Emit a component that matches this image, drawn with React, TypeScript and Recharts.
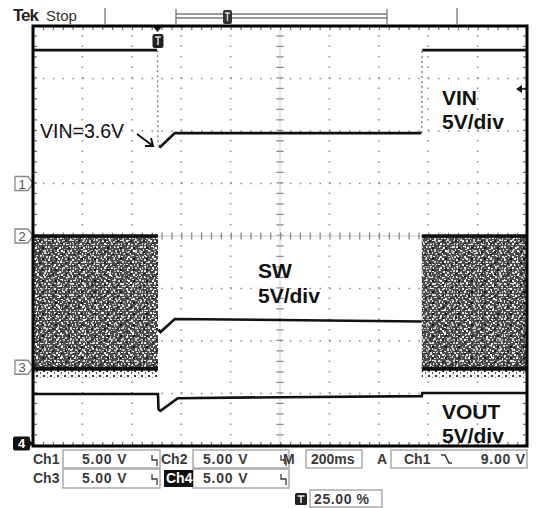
import React from "react";
import { LineChart, Line, XAxis, YAxis, ReferenceArea } from "recharts";

// time in screen divisions (200ms/div), amplitude in screen divisions (5V/div)
const vinT = [0, 2.51, 2.52, 2.55, 2.58, 2.87, 7.86, 7.87, 7.88, 10];
const vinV = [3.54, 3.54, null, 1.72, 1.7, 1.96, 1.96, null, 3.54, 3.54];
const vinEdgeT = [2.52, 2.53, 2.535, 7.87, 7.875];
const vinEdgeV = [3.54, 1.72, null, 1.96, 3.54];

const swT = [2.54, 2.58, 2.87, 5, 7.87];
const swV = [-1.78, -1.83, -1.58, -1.6, -1.63];
const railT = [0, 2.53, 2.535, 7.87, 10];
const railTopV = [0, 0, null, 0, 0];
const railBotV = [-2.53, -2.53, null, -2.53, -2.53];
const swBands = [[0, 2.53], [7.87, 10]];

const voutT = [0, 2.53, 2.54, 2.58, 2.93, 5, 7.87, 7.88, 10];
const voutV = [-3.01, -3.01, -3.3, -3.33, -3.09, -3.07, -3.05, -2.99, -2.99];

const chLevels = [1, 0, -2.5, -3.95];
const chNames = ["1", "2", "3", "4"];
const trigPos = 2.52;
const trigLevel = 2.8;

const xDivs = [1, 2, 3, 4, 6, 7, 8, 9];
const yDivs = [-3, -2, -1, 1, 2, 3];

const pts = (t: number[], v: (number | null)[]) => t.map((x, i) => ({ t: x, v: v[i] }));
const vLine = (x: number) => [{ t: x, v: -4 }, { t: x, v: 4 }];
const hLine = (y: number) => [{ t: 0, v: y }, { t: 10, v: y }];

const ink = "#3a3a3a";
const tekFont = "'Liberation Sans', Arial, sans-serif";

function ChMarker(props: any) {
  const { x, y, payload } = props;
  const i = chLevels.indexOf(payload.value);
  if (i === 3) {
    return (
      <g>
        <rect x={x - 20} y={y - 7} width={17} height={14} rx={2} fill="#111" />
        <polygon points={`${x - 4},${y - 4} ${x},${y} ${x - 4},${y + 4}`} fill="#111" />
        <text x={x - 11.5} y={y + 5} textAnchor="middle" fontSize={13} fontWeight="bold" fill="#fff" fontFamily={tekFont}>{chNames[i]}</text>
      </g>
    );
  }
  return (
    <g>
      <polygon points={`${x - 18},${y - 7} ${x - 5},${y - 7} ${x},${y} ${x - 5},${y + 7} ${x - 18},${y + 7}`} fill="#fff" stroke="#888" strokeWidth={1.3} />
      <text x={x - 11} y={y + 5} textAnchor="middle" fontSize={13} fill="#555" fontFamily={tekFont}>{chNames[i]}</text>
    </g>
  );
}

function TrigMarker(props: any) {
  const { x, y } = props;
  return (
    <g>
      <polygon points={`${x - 5},${y} ${x + 5},${y} ${x},${y + 6}`} fill="#111" />
      <rect x={x - 5} y={y + 8} width={11} height={14} rx={2} fill="#222" />
      <path d={`M${x - 2.5},${y + 11} H${x + 3.5} M${x + 0.5},${y + 11} V${y + 19}`} stroke="#ddd" strokeWidth={1.5} />
    </g>
  );
}

function LevelMarker(props: any) {
  const { x, y } = props;
  return (
    <g>
      <polygon points={`${x - 11},${y} ${x - 5},${y - 4} ${x - 5},${y + 4}`} fill="#111" />
      <line x1={x - 5} y1={y} x2={x - 1} y2={y} stroke="#111" strokeWidth={1.5} />
    </g>
  );
}

// speckle texture for the switching-noise bands
const speckColors = ["#e6e6e6", "#bcbcbc", "#f5f5f5", "#a0a0a0", "#d4d4d4", "#c8c8c8", "#eeeeee"];
const specks = [
  [0, 0, 2, 1], [3, 1, 1, 2], [6, 0, 2, 2], [10, 1, 2, 1], [14, 0, 1, 2], [17, 1, 2, 2], [21, 0, 2, 1],
  [1, 3, 1, 2], [4, 4, 2, 1], [8, 3, 2, 2], [12, 4, 1, 1], [15, 3, 2, 2], [19, 4, 2, 1], [22, 3, 1, 2],
  [0, 6, 2, 2], [5, 7, 1, 1], [7, 6, 2, 1], [11, 7, 2, 2], [14, 6, 1, 2], [18, 7, 2, 1], [21, 6, 2, 2],
  [2, 9, 2, 1], [6, 10, 1, 2], [9, 9, 2, 1], [13, 10, 2, 2], [16, 9, 1, 1], [19, 10, 2, 2], [23, 9, 1, 2],
  [0, 12, 1, 2], [3, 13, 2, 2], [7, 12, 2, 1], [10, 13, 1, 2], [15, 12, 2, 1], [18, 13, 1, 2], [20, 12, 2, 2],
  [1, 16, 2, 1], [5, 15, 1, 2], [8, 16, 2, 2], [12, 15, 2, 1], [16, 16, 2, 1], [19, 15, 1, 2], [22, 16, 2, 2],
  [0, 19, 2, 2], [4, 18, 1, 1], [6, 19, 2, 1], [10, 18, 2, 2], [13, 19, 1, 2], [17, 18, 2, 2], [21, 19, 1, 1],
  [2, 22, 2, 1], [5, 21, 1, 2], [9, 22, 2, 1], [12, 21, 2, 2], [15, 22, 1, 1], [18, 21, 2, 1], [22, 22, 1, 2],
];
const extraSpecks = [
  [1, 2, 2, 1, "#f0f0f0"], [5, 8, 2, 2, "#d0d0d0"], [10, 4, 1, 2, "#e8e8e8"], [11, 9, 2, 1, "#ccc"],
  [7, 0, 1, 1, "#fafafa"], [3, 5, 2, 2, "#151515"], [9, 1, 2, 1, "#1a1a1a"], [0, 9, 2, 2, "#222"],
];

export default function App() {
  const lineProps = { dot: false, isAnimationActive: false, activeDot: false, legendType: "none" as const };
  return (
    <div style={{ position: "absolute", left: 0, top: 0, width: 539, height: 508, background: "#fff" }}>
      <LineChart width={539} height={508} margin={{ top: 0, right: 0, bottom: 62, left: 0 }}>
        <defs>
          <pattern id="nz1" width={24} height={24} patternUnits="userSpaceOnUse">
            <rect width={24} height={24} fill="#4a4a4a" />
            {specks.map((s, i) => (
              <rect key={i} x={s[0]} y={s[1]} width={s[2]} height={s[3]} fill={speckColors[(i * 3) % speckColors.length]} />
            ))}
          </pattern>
          <pattern id="nz2" width={13} height={11} patternUnits="userSpaceOnUse">
            {extraSpecks.map((s, i) => (
              <rect key={i} x={s[0] as number} y={s[1] as number} width={s[2] as number} height={s[3] as number} fill={s[4] as string} />
            ))}
          </pattern>
          <pattern id="nz3" width={7} height={5} patternUnits="userSpaceOnUse">
            <rect x={1} y={0} width={2} height={2} fill="#333" />
            <rect x={5} y={2} width={1} height={2} fill="#555" />
          </pattern>
        </defs>
        <XAxis orientation="top" type="number" dataKey="t" domain={[0, 10]} ticks={[trigPos]} height={26}
          allowDataOverflow axisLine={false} tickLine={false} tickSize={0} tickMargin={0} tick={<TrigMarker />} />
        <YAxis type="number" domain={[-4, 4]} ticks={chLevels} width={33} axisLine={false} tickLine={false}
          allowDataOverflow tickSize={0} tickMargin={0} tick={<ChMarker />} interval={0} />
        <YAxis yAxisId="trig" orientation="right" type="number" domain={[-4, 4]} ticks={[trigLevel]} width={12}
          allowDataOverflow axisLine={false} tickLine={false} tickSize={0} tickMargin={0} tick={<LevelMarker />} />

        {/* graticule */}
        {xDivs.map((d) => (
          <Line key={"gx" + d} data={vLine(d)} dataKey="v" stroke="#8a8a8a" strokeWidth={1.5} strokeDasharray="1.5 9" {...lineProps} />
        ))}
        {yDivs.map((d) => (
          <Line key={"gy" + d} data={hLine(d)} dataKey="v" stroke="#8a8a8a" strokeWidth={1.5} strokeDasharray="1.5 8.38" {...lineProps} />
        ))}
        <Line data={vLine(5)} dataKey="v" stroke="#cfcfcf" strokeWidth={1} {...lineProps} />
        <Line data={vLine(5)} dataKey="v" stroke="#8a8a8a" strokeWidth={7} strokeDasharray="1.3 9.2" {...lineProps} />
        <Line data={hLine(0)} dataKey="v" stroke="#cfcfcf" strokeWidth={1} {...lineProps} />
        <Line data={hLine(0)} dataKey="v" stroke="#8a8a8a" strokeWidth={7} strokeDasharray="1.3 8.58" {...lineProps} />
        <Line data={hLine(4 - 2 / 52.5)} dataKey="v" stroke="#777" strokeWidth={4} strokeDasharray="1.3 8.58" {...lineProps} />
        <Line data={hLine(-4 + 2 / 52.5)} dataKey="v" stroke="#777" strokeWidth={4} strokeDasharray="1.3 8.58" {...lineProps} />
        <Line data={vLine(2 / 49.4)} dataKey="v" stroke="#777" strokeWidth={4} strokeDasharray="1.3 9.2" {...lineProps} />
        <Line data={vLine(10 - 2 / 49.4)} dataKey="v" stroke="#777" strokeWidth={4} strokeDasharray="1.3 9.2" {...lineProps} />

        {swBands.map((b, i) => (
          <ReferenceArea key={"a" + i} x1={b[0]} x2={b[1]} y1={-2.53} y2={0} fill="url(#nz1)" fillOpacity={1} stroke="none" />
        ))}
        {swBands.map((b, i) => (
          <ReferenceArea key={"b" + i} x1={b[0]} x2={b[1]} y1={-2.53} y2={0} fill="url(#nz2)" fillOpacity={1} stroke="none" />
        ))}
        {swBands.map((b, i) => (
          <ReferenceArea key={"c" + i} x1={b[0]} x2={b[1]} y1={-2.7} y2={-2.53} fill="url(#nz3)" fillOpacity={1} stroke="none" />
        ))}

        <Line data={pts(vinEdgeT, vinEdgeV)} dataKey="v" stroke="#888" strokeWidth={1.5} strokeDasharray="2 3" {...lineProps} />
        <Line yAxisId="trig" data={pts(vinT, vinV)} dataKey="v" stroke="#111" strokeWidth={2.6} {...lineProps} />
        <Line data={pts(railT, railTopV)} dataKey="v" stroke="#111" strokeWidth={3.5} {...lineProps} />
        <Line data={pts(railT, railBotV)} dataKey="v" stroke="#111" strokeWidth={4} {...lineProps} />
        <Line data={pts(swT, swV)} dataKey="v" stroke="#111" strokeWidth={2.6} {...lineProps} />
        <Line data={pts(voutT, voutV)} dataKey="v" stroke="#111" strokeWidth={2.6} {...lineProps} />
      </LineChart>

      <svg width={539} height={508} style={{ position: "absolute", left: 0, top: 0, pointerEvents: "none" }}>
        {/* frame */}
        <rect x={33} y={26} width={494} height={420} fill="none" stroke="#000" strokeWidth={3} />

        {/* header */}
        <text x={13} y={21} fontFamily={tekFont} fontSize={17} fontWeight="bold" letterSpacing={-1} fill="#222">Tek</text>
        <text x={46} y={21} fontFamily={tekFont} fontSize={15} fill="#333">Stop</text>
        <g stroke="#777" strokeWidth={1.3}>
          <line x1={105} y1={8} x2={105} y2={25} />
          <line x1={457} y1={8} x2={457} y2={25} />
          <line x1={176} y1={9} x2={176} y2={25} />
          <line x1={387} y1={9} x2={387} y2={25} />
          <line x1={176} y1={14} x2={387} y2={14} />
          <line x1={176} y1={18} x2={387} y2={18} />
        </g>
        <rect x={223} y={10} width={9} height={14} rx={2} fill="#333" />
        <path d="M225,13 H230 M227.5,13 V21" stroke="#ddd" strokeWidth={1.3} />

        {/* annotations */}
        <text x={40} y={138} fontFamily="Arial, 'Liberation Sans', sans-serif" fontSize={19.5} fill="#111">VIN=3.6V</text>
        <path d="M137,134 L153,146 M145,146 L153,146 L151,138" stroke="#111" strokeWidth={2} fill="none" />
        <g fontFamily="Arial, 'Liberation Sans', sans-serif" fontSize={21} fontWeight="bold" fill="#111">
          <text x={442} y={105}>VIN</text>
          <text x={442} y={129}>5V/div</text>
          <text x={258} y={278}>SW</text>
          <text x={258} y={303}>5V/div</text>
          <text x={442} y={419}>VOUT</text>
          <text x={442} y={443}>5V/div</text>
        </g>

        {/* readouts */}
        <g stroke="#aaa" strokeWidth={1.5} fill="none">
          <rect x={63} y={450} width={97} height={18} />
          <rect x={193} y={450} width={96} height={18} />
          <rect x={306} y={450} width={56} height={18} />
          <rect x={391} y={450} width={136} height={18} />
          <rect x={63} y={469} width={97} height={19} />
          <rect x={193} y={469} width={96} height={19} />
          <rect x={310} y={490} width={72} height={17} />
        </g>
        <rect x={164} y={470} width={29} height={17} fill="#111" />
        <g fontFamily={tekFont} fontSize={14} fontWeight="bold" fill={ink}>
          <text x={33} y={464}>Ch1</text>
          <text x={82} y={464} letterSpacing={0.8}>5.00 V</text>
          <text x={161} y={464}>Ch2</text>
          <text x={203} y={464} letterSpacing={0.8}>5.00 V</text>
          <text x={283} y={464}>M</text>
          <text x={311} y={464}>200ms</text>
          <text x={377} y={464}>A</text>
          <text x={404} y={464}>Ch1</text>
          <text x={526} y={464} textAnchor="end" letterSpacing={0.8}>9.00 V</text>
          <text x={33} y={483}>Ch3</text>
          <text x={82} y={483} letterSpacing={0.8}>5.00 V</text>
          <text x={166} y={483} fill="#fff">Ch4</text>
          <text x={203} y={483} letterSpacing={0.8}>5.00 V</text>
          <text x={314} y={504} letterSpacing={0.6}>25.00 %</text>
        </g>
        <g stroke={ink} strokeWidth={1.3} fill="none">
          <path d="M152,455 V460 H157 V466" />
          <path d="M281,455 V460 H286 V466" />
          <path d="M152,474 V479 H157 V485" />
          <path d="M281,474 V479 H286 V485" />
          <path d="M441,455 H445 L449,463 H452" strokeWidth={1.6} />
        </g>
        <rect x={295} y={493} width={12} height={12} rx={1.5} fill="#222" />
        <path d="M297.5,496 H304.5 M301,496 V503" stroke="#eee" strokeWidth={1.5} />
      </svg>
    </div>
  );
}
